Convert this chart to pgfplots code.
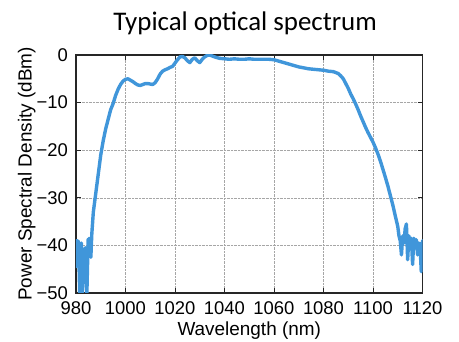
\documentclass[border=0pt]{standalone}
\usepackage{fontspec}
\setmainfont{Liberation Sans}
\newfontfamily\titlefont{Carlito}
\usepackage{pgfplots}
\pgfplotsset{compat=1.18}
\definecolor{specblue}{RGB}{64,150,218}
\begin{document}
\begin{tikzpicture}
\begin{axis}[
  name=ax,
  scale only axis,
  width=346.5bp, height=238bp,
  xmin=980, xmax=1120, ymin=-50, ymax=0,
  xtick={980,1000,...,1120},
  ytick={-50,-40,...,0},
  yticklabels={−50,−40,−30,−20,−10,0},
  /pgf/number format/assume math mode=true,
  /pgf/number format/1000 sep={},
  tick label style={font=\fontsize{18.5}{20}\selectfont},
  yticklabel style={inner xsep=0bp, xshift=-8bp},
  xticklabel style={inner ysep=2bp, yshift=-6bp},
  label style={font=\fontsize{19}{22}\selectfont},
  xlabel={Wavelength (nm)},
  ylabel={Power Spectral Density (dBm)},
  xlabel style={at={(axis description cs:0.5,-0.158)}, anchor=center},
  ylabel style={at={(axis description cs:-0.142,0.5)}, anchor=center},
  title={Typical optical spectrum},
  title style={font=\titlefont\fontsize{27}{30}\selectfont, at={(axis description cs:0.488,1.11)}, anchor=center},
  grid=major,
  major grid style={densely dotted, gray!70, line width=0.6pt},
  axis line style={line width=1.2pt, black!85},
  major tick length=5bp,
  tick style={line width=0.8pt, black!85},
]
\addplot[specblue, line width=3.4bp, line join=round, line cap=round] coordinates {
(980.0,-44.5) (980.3,-39) (981.0,-39.2) (981.5,-50) (982.2,-39.5) (982.6,-50)
(983.3,-41) (983.8,-40.5) (984.4,-50) (984.9,-38.8) (985.6,-38.5) (986.0,-42.5)
(986.4,-37.5) (987,-33) (988,-29) (989,-25) (990,-21) (991,-18) (992,-15.5)
(993,-13.5) (994,-11.5) (995,-10.2) (996,-8.5) (997,-7.2) (998,-6.2) (999,-5.5)
(1000,-5.1) (1001,-5.0) (1002,-5.3) (1003,-5.6) (1004,-6.0) (1005,-6.3) (1006,-6.4)
(1007,-6.2) (1008,-6.0) (1009,-6.0) (1010,-6.1) (1011,-6.2) (1012,-5.8) (1013,-5.0)
(1014,-4.0) (1015,-3.4) (1016,-3.1) (1017,-2.9) (1018,-2.6) (1019,-2.4) (1020,-1.7)
(1021,-1.0) (1022,-0.4) (1023,-0.3) (1024,-0.6) (1025,-1.2) (1026,-1.6) (1027,-0.9)
(1028,-0.6) (1029,-1.2) (1030,-1.6) (1031,-0.9) (1032,-0.4) (1033,-0.1) (1034,0)
(1035,-0.2) (1036,-0.4) (1038,-0.7) (1040,-0.8) (1042,-0.9) (1044,-0.8) (1046,-0.9)
(1048,-0.9) (1050,-0.8) (1052,-0.9) (1055,-0.9) (1058,-0.9) (1060,-1.0) (1062,-1.3)
(1064,-1.6) (1066,-1.9) (1068,-2.2) (1070,-2.5) (1072,-2.7) (1074,-2.9) (1076,-3.0)
(1078,-3.1) (1080,-3.2) (1082,-3.4) (1084,-3.5) (1086,-3.9) (1087,-4.4) (1088,-5.0)
(1089,-6.0) (1090,-7.0) (1091,-8.2) (1092,-9.2) (1093,-10.3) (1094,-11.5) (1095,-12.8)
(1096,-14.0) (1097,-15.2) (1098,-16.3) (1099,-17.3) (1100,-18.3) (1101,-19.5)
(1102,-20.8) (1103,-22.3) (1104,-24) (1105,-25.7) (1106,-27.5) (1107,-29.5)
(1108,-31.5) (1109,-33.8) (1110,-36) (1110.5,-38) (1111,-39) (1111.5,-42) (1112,-38)
(1112.5,-39.5) (1113,-36.5) (1113.5,-35.5) (1114,-43) (1114.5,-38) (1115,-39.5)
(1115.5,-38.5) (1116,-44) (1116.5,-38.5) (1117,-40) (1117.5,-38.8) (1118,-42)
(1118.5,-39.5) (1119,-40) (1119.5,-45.5) (1120,-39)
};
\end{axis}
\pgfresetboundingbox
\useasboundingbox ([shift={(-76bp,-49bp)}]ax.south west) rectangle ([shift={(36.5bp,55bp)}]ax.north east);
\end{tikzpicture}
\end{document}
